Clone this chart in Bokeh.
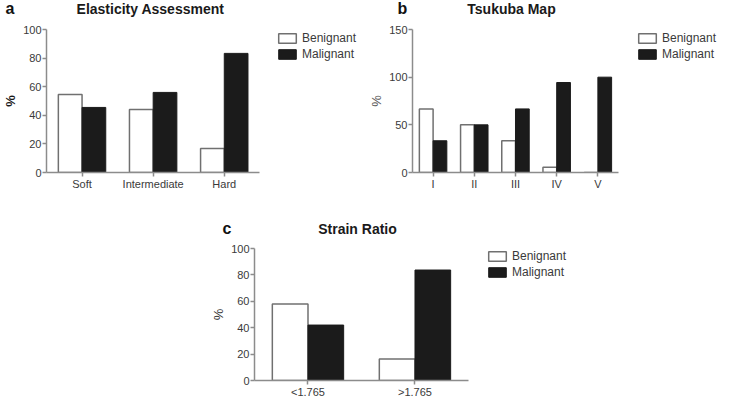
from bokeh.plotting import figure
from bokeh.models import (Range1d, FixedTicker, Label, Legend, Plot,
                          LegendItem, ColumnDataSource, Spacer)
from bokeh.transform import dodge
from bokeh.layouts import row, column
from bokeh.embed import file_html
from bokeh.resources import INLINE

# ---- data ----
a_categories = ["Soft", "Intermediate", "Hard"]
a_benignant = [54.5, 44.0, 16.7]
a_malignant = [45.5, 56.0, 83.3]
a_yticks = [0, 20, 40, 60, 80, 100]

b_categories = ["I", "II", "III", "IV", "V"]
b_benignant = [66.7, 50.0, 33.3, 5.6, 0.0]
b_malignant = [33.3, 50.0, 66.7, 94.4, 100.0]
b_yticks = [0, 50, 100, 150]

c_categories = ["<1.765", ">1.765"]
c_benignant = [58.0, 16.3]
c_malignant = [42.0, 83.7]
c_yticks = [0, 20, 40, 60, 80, 100]

series_labels = ["Benignant", "Malignant"]

FONT = "Liberation Sans"
AXIS = "#8c8c8c"
TXT = "#3a3a3a"
NOALIGN = {"frame_align": False} if "frame_align" in Plot.properties() else {}


def header(w, h, letter, letter_x, title, title_cx, baseline):
    """A strip above a chart holding the panel letter and the chart title."""
    hp = figure(width=w, height=h, x_range=Range1d(0, w), y_range=Range1d(0, h),
                x_axis_type=None, y_axis_type=None, output_backend="svg",
                toolbar_location=None, min_border_left=0, min_border_right=0,
                min_border_top=0, min_border_bottom=0, **NOALIGN)
    hp.outline_line_color = None
    hp.xgrid.visible = False
    hp.ygrid.visible = False
    hp.add_layout(Label(x=letter_x, y=baseline, x_units="screen", y_units="screen",
                        text=letter, text_font=FONT, text_font_size="16px",
                        text_font_style="bold", text_color="#111111"))
    hp.add_layout(Label(x=title_cx, y=baseline, x_units="screen", y_units="screen",
                        text=title, text_align="center", text_font=FONT,
                        text_font_size="14px", text_font_style="bold",
                        text_color="#1a1a1a"))
    return hp


def chart(cats, ben, mal, yticks, w, h, left, top, bottom, axis_px,
          pct_style, pct_color):
    n = len(cats)
    fw = w - left
    fh = h - top - bottom
    # the frame runs to the right edge so that the legend can sit inside it;
    # the axis line itself is bounded to the category span
    x_end = -0.5 + n * fw / axis_px
    p = figure(width=w, height=h, x_range=Range1d(-0.5, x_end),
               y_range=Range1d(yticks[0], yticks[-1]),
               output_backend="svg", toolbar_location=None,
               min_border_left=left, min_border_right=0,
               min_border_top=top, min_border_bottom=bottom, **NOALIGN)
    p.outline_line_color = None
    p.xgrid.visible = False
    p.ygrid.visible = False

    idx = list(range(n))
    src = ColumnDataSource(dict(idx=idx, cat=cats, ben=ben, mal=mal))
    rb = p.vbar(x=dodge("idx", -1 / 6), top="ben", width=1 / 3,
                source=src, fill_color="white", line_color="#707070", line_width=1.5)
    rm = p.vbar(x=dodge("idx", 1 / 6), top="mal", width=1 / 3,
                source=src, fill_color="#1b1b1b", line_color="#1b1b1b", line_width=1)

    for ax in (p.xaxis[0], p.yaxis[0]):
        ax.axis_line_color = AXIS
        ax.axis_line_width = 1.5
        ax.major_tick_line_color = AXIS
        ax.major_tick_line_width = 1.5
        ax.major_tick_in = 0
        ax.major_tick_out = 4
        ax.minor_tick_line_color = None
        ax.major_label_text_font = FONT
        ax.major_label_text_font_size = "11px"
        ax.major_label_text_color = TXT
        ax.major_label_standoff = 1
    p.xaxis.ticker = FixedTicker(ticks=idx)
    p.xaxis.major_label_overrides = {i: c for i, c in zip(idx, cats)}
    p.xaxis.bounds = (-0.5, n - 0.5)
    p.yaxis.ticker = FixedTicker(ticks=yticks)
    p.yaxis.bounds = (yticks[0], yticks[-1])
    p.yaxis.axis_label = "%"
    p.yaxis.axis_label_text_font = FONT
    p.yaxis.axis_label_text_font_size = "13px"
    p.yaxis.axis_label_text_font_style = pct_style
    p.yaxis.axis_label_text_color = pct_color
    p.yaxis.axis_label_standoff = 2

    legend = Legend(items=[LegendItem(label=series_labels[0], renderers=[rb]),
                           LegendItem(label=series_labels[1], renderers=[rm])],
                    location=(axis_px + 14, fh - 33),
                    label_text_font=FONT, label_text_font_size="12px",
                    label_text_color=TXT, glyph_width=22, glyph_height=12,
                    label_height=14, label_width=20, spacing=2, padding=0, margin=0,
                    label_standoff=4, border_line_color=None,
                    background_fill_alpha=0)
    p.add_layout(legend)
    return p


ha = header(366, 20, "a", 5, "Elasticity Assessment", 42 + 108, 4)
pa = chart(a_categories, a_benignant, a_malignant, a_yticks,
           366, 172, 42, 9, 19, 216, "bold", "#1a1a1a")
hb = header(354, 20, "b", 31, "Tsukuba Map", 40 + 105, 4)
pb = chart(b_categories, b_benignant, b_malignant, b_yticks,
           354, 172, 40, 9, 19, 210, "normal", "#555555")
hc = header(366, 48, "c", 14, "Strain Ratio", 40 + 109, 4)
pc = chart(c_categories, c_benignant, c_malignant, c_yticks,
           366, 160, 40, 8, 18, 218, "normal", "#333333")

layout = column(row(column(ha, pa), column(hb, pb)),
                row(Spacer(width=208, height=208), column(hc, pc)))

open("out.html", "w").write(file_html(layout, INLINE))
